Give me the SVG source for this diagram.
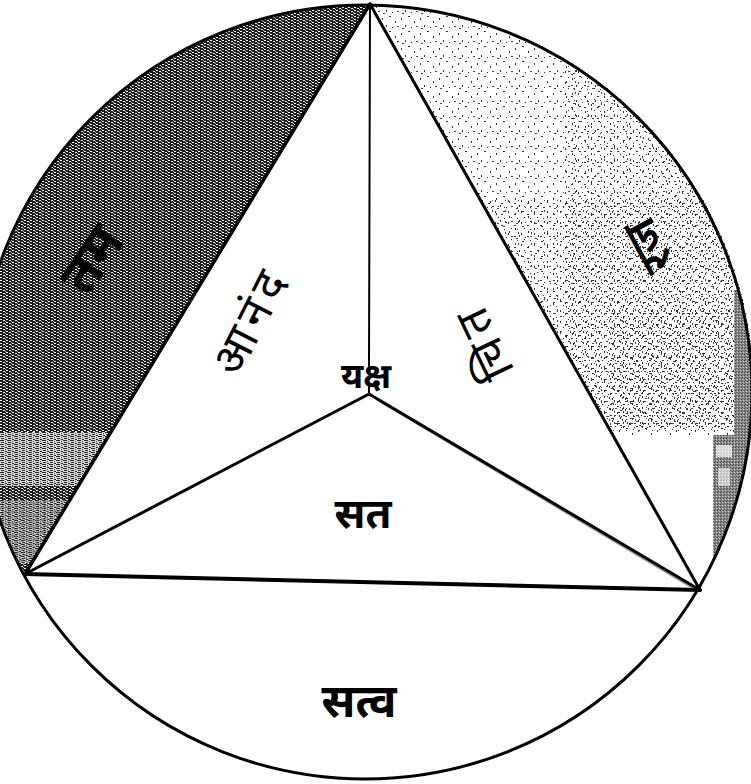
<svg xmlns="http://www.w3.org/2000/svg" width="751" height="784" viewBox="0 0 751 784">
<style>
.ln{stroke:#000;stroke-linecap:round;fill:none}
.dv{font-family:"Noto Sans Devanagari","Lohit Devanagari","Mangal","FreeSans","Noto Sans",sans-serif;fill:#000}
.b{font-weight:bold}
</style>
<defs>
<pattern id="dark" width="6" height="3" patternUnits="userSpaceOnUse">
<rect width="6" height="3" fill="#1c1c1c"/>
<rect x="0" y="1" width="2" height="1" fill="#fff"/>
<rect x="3" y="2" width="2" height="1" fill="#eee"/>
<rect x="5" y="0" width="1" height="1" fill="#bbb"/>
</pattern>
<pattern id="mid" width="7" height="4" patternUnits="userSpaceOnUse">
<rect width="7" height="4" fill="#d8d8d8"/>
<rect x="0" y="0" width="4" height="1" fill="#222"/>
<rect x="1" y="2" width="3" height="1" fill="#222"/>
<rect x="5" y="3" width="2" height="1" fill="#222"/>
<rect x="5" y="1" width="1" height="1" fill="#444"/>
</pattern>
<pattern id="speck" width="19" height="15" patternUnits="userSpaceOnUse">
<rect x="2" y="3" width="1" height="2" fill="#333"/>
<rect x="9" y="1" width="2" height="1" fill="#333"/>
<rect x="15" y="6" width="1" height="2" fill="#333"/>
<rect x="17" y="11" width="2" height="1" fill="#444"/>
<rect x="6" y="10" width="1" height="2" fill="#333"/>
<rect x="12" y="12" width="1" height="1" fill="#333"/>
<rect x="3" y="13" width="2" height="1" fill="#444"/>
</pattern>
<pattern id="speck2" width="13" height="11" patternUnits="userSpaceOnUse">
<rect x="1" y="2" width="1" height="2" fill="#333"/>
<rect x="7" y="5" width="2" height="1" fill="#333"/>
<rect x="11" y="1" width="1" height="2" fill="#444"/>
<rect x="4" y="8" width="1" height="1" fill="#333"/>
<rect x="10" y="9" width="1" height="1" fill="#333"/>
</pattern>
<pattern id="grey" width="3" height="3" patternUnits="userSpaceOnUse">
<rect width="3" height="3" fill="#8a8a8a"/>
<rect x="0" y="0" width="1" height="1" fill="#444"/>
<rect x="2" y="1" width="1" height="1" fill="#ccc"/>
<rect x="1" y="2" width="1" height="1" fill="#555"/>
</pattern>
<clipPath id="leftSeg"><path d="M370,4 L25,574 A388,388 0 0 1 370,4 Z"/></clipPath>
<clipPath id="rightSeg"><path d="M370,4 L700,590 A388,388 0 0 0 370,4 Z"/></clipPath>
<clipPath id="disc"><circle cx="365" cy="392" r="387"/></clipPath>
</defs>
<rect width="751" height="784" fill="#fff"/>

<g id="segment-tam">
<path d="M370,4 L25,574 A388,388 0 0 1 370,4 Z" fill="url(#dark)"/>
<g clip-path="url(#leftSeg)">
<rect x="0" y="432" width="140" height="54" fill="url(#mid)"/>
<rect x="0" y="500" width="120" height="64" fill="url(#mid)" opacity="0.7"/>
</g>
</g>

<g id="segment-raj" clip-path="url(#rightSeg)">
<rect x="360" y="0" width="400" height="430" fill="url(#speck)"/>
<rect x="360" y="200" width="400" height="230" fill="url(#speck2)"/>
<rect x="560" y="60" width="200" height="370" fill="url(#speck2)" transform="translate(5,3)"/>
<rect x="600" y="300" width="160" height="130" fill="url(#speck)" transform="translate(9,7)"/>
<g clip-path="url(#disc)">
<polygon points="734,290 760,290 760,570 713,570 713,435 734,435" fill="url(#grey)"/>
<rect x="716" y="445" width="16" height="12" fill="#fff" opacity="0.7"/>
<rect x="718" y="468" width="12" height="18" fill="#fff" opacity="0.6"/>
</g>
</g>

<g id="triangle-shading">
<polygon points="373,395 699,589 689,587 377,401" fill="#9a9a9a"/>
</g>

<g id="connectors">
<circle class="ln" cx="365" cy="392" r="387" stroke-width="3"/>
<line class="ln" x1="370" y1="4" x2="25" y2="574" stroke-width="3.5"/>
<line class="ln" x1="370" y1="4" x2="700" y2="590" stroke-width="3"/>
<line class="ln" x1="25" y1="574" x2="700" y2="590" stroke-width="4"/>
<line class="ln" x1="369" y1="394" x2="25" y2="574" stroke-width="3"/>
<line class="ln" x1="369" y1="394" x2="700" y2="590" stroke-width="3"/>
<line class="ln" x1="370" y1="4" x2="369" y2="366" stroke-width="2"/>
<line class="ln" x1="369" y1="386" x2="369" y2="394" stroke-width="2"/>
</g>

<g id="label-tam" transform="translate(96,262) rotate(-56)">
<text class="dv b" x="0" y="13" font-size="54" text-anchor="middle">तम</text>
</g>
<g id="label-raj" transform="translate(652,244) rotate(-118.5)">
<text class="dv" x="0" y="12" font-size="46" text-anchor="middle" font-weight="600">रज</text>
</g>
<g id="label-anand" transform="translate(254,322) rotate(-63)">
<text class="dv" x="0" y="12" font-size="46" text-anchor="middle" letter-spacing="6">आनंद</text>
</g>
<g id="label-chit" transform="translate(487,340) rotate(-115.5)">
<text class="dv" x="0" y="12" font-size="46" text-anchor="middle" letter-spacing="6">चित</text>
</g>
<g id="label-yaksha">
<text class="dv b" x="366" y="388" font-size="35" text-anchor="middle">यक्ष</text>
</g>
<g id="label-sat">
<text class="dv b" x="363" y="528" font-size="42" text-anchor="middle">सत</text>
</g>
<g id="label-sattva">
<text class="dv b" x="359" y="717" font-size="46" text-anchor="middle">सत्व</text>
</g>
</svg>
